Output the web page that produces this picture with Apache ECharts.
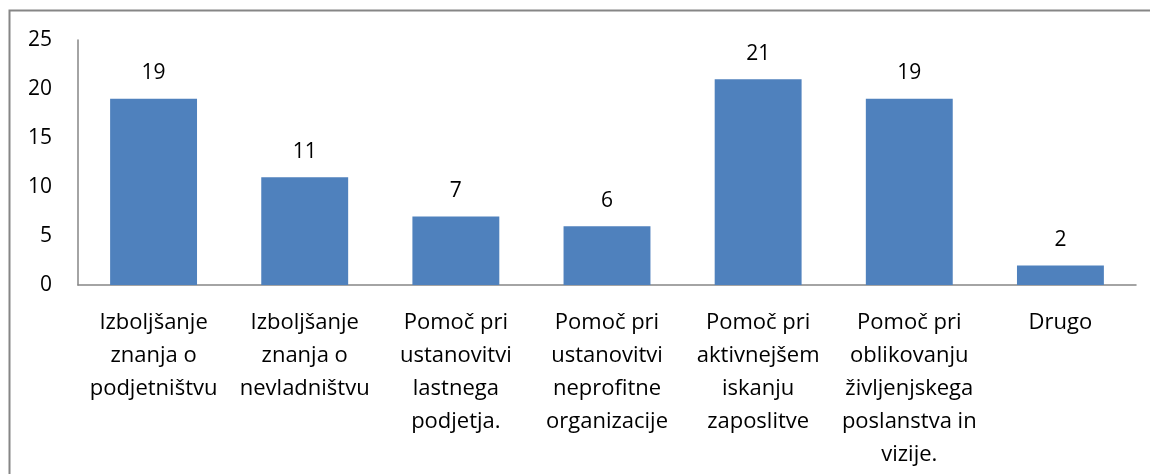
<!DOCTYPE html>
<html>
<head>
<meta charset="utf-8">
<script src="https://cdn.jsdelivr.net/npm/echarts@6/dist/echarts.min.js"></script>
<style>
  html, body { margin: 0; padding: 0; background: #fff; }
  #chart { width: 1150px; height: 474px; }
</style>
</head>
<body>
<div id="chart"></div>
<script>
// categories (x axis)
const categories = [
  'Izboljšanje\nznanja o\npodjetništvu',
  'Izboljšanje\nznanja o\nnevladništvu',
  'Pomoč pri\nustanovitvi\nlastnega\npodjetja.',
  'Pomoč pri\nustanovitvi\nneprofitne\norganizacije',
  'Pomoč pri\naktivnejšem\niskanju\nzaposlitve',
  'Pomoč pri\noblikovanju\nživljenjskega\nposlanstva in\nvizije.',
  'Drugo'
];
// counts
const values = [19, 11, 7, 6, 21, 19, 2];

const font = '"Open Sans", "Liberation Sans", sans-serif';

const chart = echarts.init(document.getElementById('chart'));

chart.setOption({
  animation: false,
  graphic: [{
    type: 'rect',
    shape: { x: 9.5, y: 10.5, width: 1200, height: 500 },
    style: { fill: 'none', stroke: '#868686', lineWidth: 2 },
    silent: true
  }],
  grid: { left: 78, right: 14, top: 40, bottom: 189 },
  xAxis: {
    type: 'category',
    data: categories,
    axisLine: { lineStyle: { color: '#868686', width: 1.5 } },
    axisTick: { show: false },
    axisLabel: {
      interval: 0,
      color: '#000',
      fontFamily: font,
      fontSize: 22,
      lineHeight: 33,
      margin: 21
    }
  },
  yAxis: {
    type: 'value',
    min: 0,
    max: 25,
    interval: 5,
    splitLine: { show: false },
    axisLine: { show: true, lineStyle: { color: '#868686', width: 1.5 } },
    axisTick: { show: false },
    axisLabel: {
      color: '#000',
      fontFamily: font,
      fontSize: 21,
      margin: 26
    }
  },
  series: [{
    type: 'bar',
    data: values,
    barWidth: '57.5%',
    itemStyle: { color: '#4F81BD' },
    label: {
      show: true,
      position: 'top',
      distance: 15,
      color: '#000',
      fontFamily: font,
      fontSize: 21
    }
  }]
});
</script>
</body>
</html>
